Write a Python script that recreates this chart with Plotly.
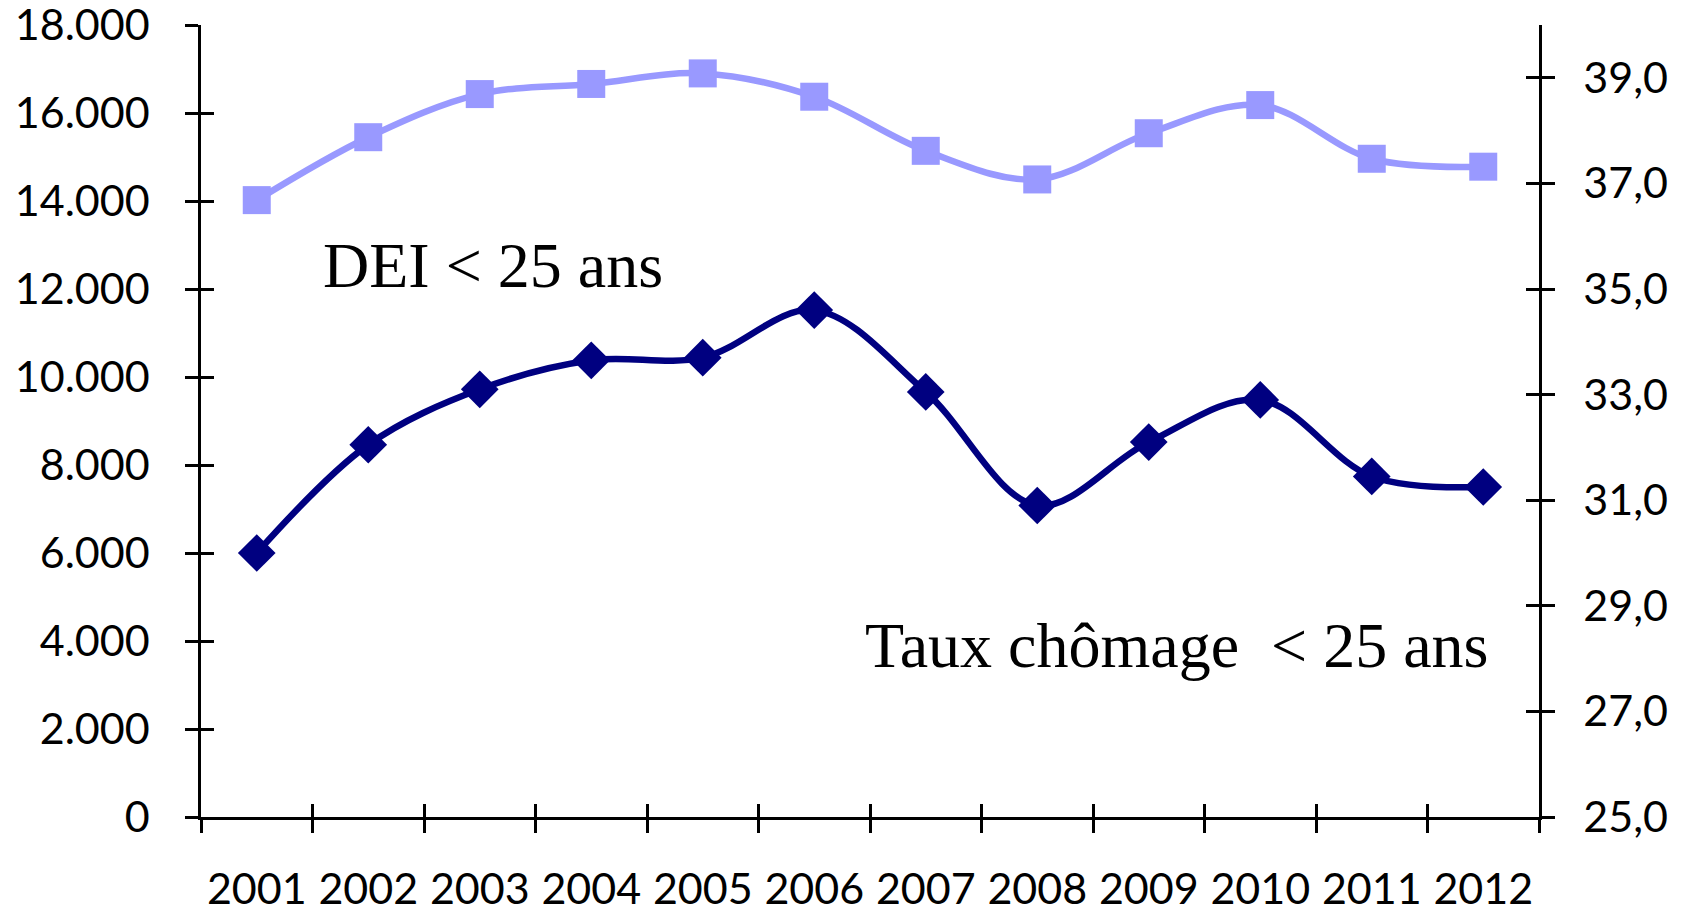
import plotly.graph_objects as go

# ---- data ----
years = ["2001", "2002", "2003", "2004", "2005", "2006",
         "2007", "2008", "2009", "2010", "2011", "2012"]
dei_moins_25 = [14020, 15450, 16430, 16660, 16900, 16370,
                15140, 14490, 15540, 16180, 14960, 14780]
taux_chomage_moins_25 = [30.0, 32.05, 33.1, 33.65, 33.7, 34.6,
                         33.05, 30.9, 32.1, 32.9, 31.45, 31.25]
left_tick_values = [0, 2000, 4000, 6000, 8000, 10000, 12000, 14000, 16000, 18000]
right_tick_values = [25, 27, 29, 31, 33, 35, 37, 39]
label_dei = "DEI < 25 ans"
label_taux = "Taux chômage \u00a0< 25 ans"

left_range = [0, 18000]
right_range = [25, 40]
x_range = [-0.5, len(years) - 0.5]
boundaries = [i - 0.5 for i in range(len(years) + 1)]

TICKFONT = dict(family="Lato", size=43, color="black")
TLEN = 13
TW = 2.5

fig = go.Figure()
fig.add_trace(go.Scatter(
    x=years, y=dei_moins_25, mode="lines+markers", name="DEI",
    line=dict(color="#9999FF", width=6.5, shape="spline", smoothing=1),
    marker=dict(symbol="square", size=28, color="#9999FF"),
    xaxis="x", yaxis="y", showlegend=False, cliponaxis=False))
fig.add_trace(go.Scatter(
    x=years, y=taux_chomage_moins_25, mode="lines+markers", name="Taux",
    line=dict(color="#000080", width=6.5, shape="spline", smoothing=1),
    marker=dict(symbol="diamond", size=29, color="#000080"),
    xaxis="x", yaxis="y2", showlegend=False, cliponaxis=False))
# empty traces so that the inner-tick overlay axes are drawn
fig.add_trace(go.Scatter(x=[], y=[], xaxis="x2", yaxis="y3",
                         showlegend=False, hoverinfo="skip"))
fig.add_trace(go.Scatter(x=[], y=[], xaxis="x2", yaxis="y4",
                         showlegend=False, hoverinfo="skip"))

common = dict(showgrid=False, zeroline=False, automargin=False,
              ticklen=TLEN, tickwidth=TW, tickcolor="black")

fig.update_layout(
    width=1687, height=912,
    margin=dict(l=201, r=148, t=25, b=95, autoexpand=False),
    paper_bgcolor="white", plot_bgcolor="white",
    separators=",.",
    showlegend=False,
    xaxis=dict(type="category", range=x_range, tickson="boundaries",
               ticks="outside", showline=True, linecolor="black", linewidth=3,
               tickfont=TICKFONT, ticklabelstandoff=32, **common),
    xaxis2=dict(overlaying="x", anchor="y", range=x_range, tickmode="array",
                tickvals=boundaries, ticks="inside", showticklabels=False,
                showline=False, **common),
    yaxis=dict(range=left_range, tickmode="array", tickvals=left_tick_values,
               tickformat=",d", ticks="outside", showline=True, linecolor="black",
               linewidth=2.5, tickfont=TICKFONT, ticklabelstandoff=27,
               ticklabeloverflow="allow", **common),
    yaxis3=dict(overlaying="y", anchor="x2", side="left", range=left_range,
                tickmode="array", tickvals=left_tick_values, ticks="inside",
                showticklabels=False, showline=False, **common),
    yaxis2=dict(overlaying="y", anchor="x", side="right", range=right_range,
                tickmode="array", tickvals=right_tick_values, tickformat=".1f",
                ticks="outside", showline=True, linecolor="black", linewidth=2.5,
                tickfont=TICKFONT, ticklabelstandoff=20,
                ticklabeloverflow="allow", **common),
    yaxis4=dict(overlaying="y", anchor="x2", side="right", range=right_range,
                tickmode="array", tickvals=right_tick_values, ticks="inside",
                showticklabels=False, showline=False, **common),
    annotations=[
        dict(text=label_dei, xref="paper", yref="paper", x=0.218, y=0.696,
             xanchor="center", yanchor="middle", showarrow=False,
             font=dict(family="Liberation Serif", size=64, color="black")),
        dict(text=label_taux, xref="paper", yref="paper", x=0.7294, y=0.216,
             xanchor="center", yanchor="middle", showarrow=False,
             font=dict(family="Liberation Serif", size=64, color="black")),
    ],
)

fig.write_html("out.html",
               config={"displayModeBar": False},
               post_script="document.body.style.margin='0';"
                           "document.body.style.overflow='hidden';")
